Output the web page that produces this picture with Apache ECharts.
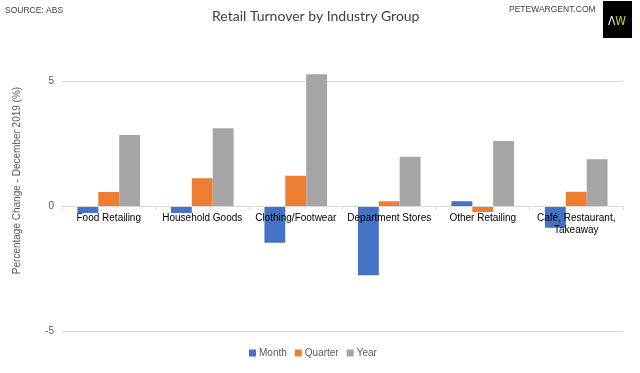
<!DOCTYPE html>
<html><head><meta charset="utf-8">
<script src="https://cdn.jsdelivr.net/npm/echarts@6/dist/echarts.min.js"></script>
<style>html,body{margin:0;padding:0;background:#fff}#c{width:640px;height:373px}</style>
</head><body><div id="c"></div>
<script>
const categories = ['Food Retailing','Household Goods','Clothing/Footwear','Department Stores','Other Retailing','Café, Restaurant,\nTakeaway'];
const monthValues = [-0.28, -0.28, -1.47, -2.77, 0.19, -0.87];
const quarterValues = [0.56, 1.11, 1.21, 0.19, -0.24, 0.57];
const yearValues = [2.84, 3.11, 5.27, 1.97, 2.6, 1.87];
const yTicks = [-5, 0, 5];

const chart = echarts.init(document.getElementById('c'), null, {renderer:'canvas'});
const F = '"Liberation Sans", Arial, sans-serif';
chart.setOption({
  animation:false,
  backgroundColor:'#fff',
  title:{text:'Retail Turnover by Industry Group', left:207, top:4,
    textStyle:{fontFamily:'Lato, "Open Sans", sans-serif', fontSize:14, fontWeight:'normal', color:'#404040'}},
  graphic:[
    {type:'text', left:5, top:6, style:{text:'SOURCE: ABS', font:'8.5px '+F, fill:'#404040'}},
    {type:'text', left:509, top:5, style:{text:'PETEWARGENT.COM', font:'8.5px '+F, fill:'#404040'}},
    {type:'rect', shape:{x:603,y:1,width:29,height:37}, style:{fill:'#000'}},
    {type:'text', x:617, y:22, style:{text:'{a|Λ}{b|W}', align:'center', verticalAlign:'middle',
      rich:{a:{fill:'#f0f0f0', font:'12px "DejaVu Sans Condensed", sans-serif'}, b:{fill:'#d8cc20', font:'12px "DejaVu Sans Condensed", sans-serif'}}}}
  ],
  grid:{left:62, right:17, top:56, bottom:42},
  legend:{top:343, left:244, itemWidth:7, itemHeight:7, itemGap:8, icon:'rect',
    textStyle:{fontFamily:F, fontSize:10, color:'#595959', padding:[0,0,0,-2]}},
  xAxis:{type:'category', data:categories, offset:-125, z:10,
    axisLine:{onZero:false, lineStyle:{color:'#d9d9d9'}},
    axisTick:{show:true, length:4, lineStyle:{color:'#d9d9d9'}},
    axisLabel:{fontFamily:F, fontSize:10, color:'#000', margin:6, lineHeight:12, interval:0}},
  yAxis:{type:'value', min:-5, max:6, interval:5,
    name:'Percentage Change - December 2019 (%)', nameLocation:'middle', nameGap:40, nameRotate:90,
    nameTextStyle:{fontFamily:F, fontSize:10, color:'#595959', padding:[0,0,0,26]},
    axisLine:{show:false}, axisTick:{show:false},
    axisLabel:{fontFamily:F, fontSize:10, color:'#595959', margin:8, showMaxLabel:false,
      formatter:v=> yTicks.includes(v)? String(v):''},
    splitLine:{showMaxLine:false, lineStyle:{color:'#d9d9d9'}}},
  series:[
    {name:'Month', type:'bar', data:monthValues, itemStyle:{color:'#4472C4'}, barGap:'0%', barCategoryGap:'33%'},
    {name:'Quarter', type:'bar', data:quarterValues, itemStyle:{color:'#ED7D31'}},
    {name:'Year', type:'bar', data:yearValues, itemStyle:{color:'#A5A5A5'}}
  ]
});
</script></body></html>
